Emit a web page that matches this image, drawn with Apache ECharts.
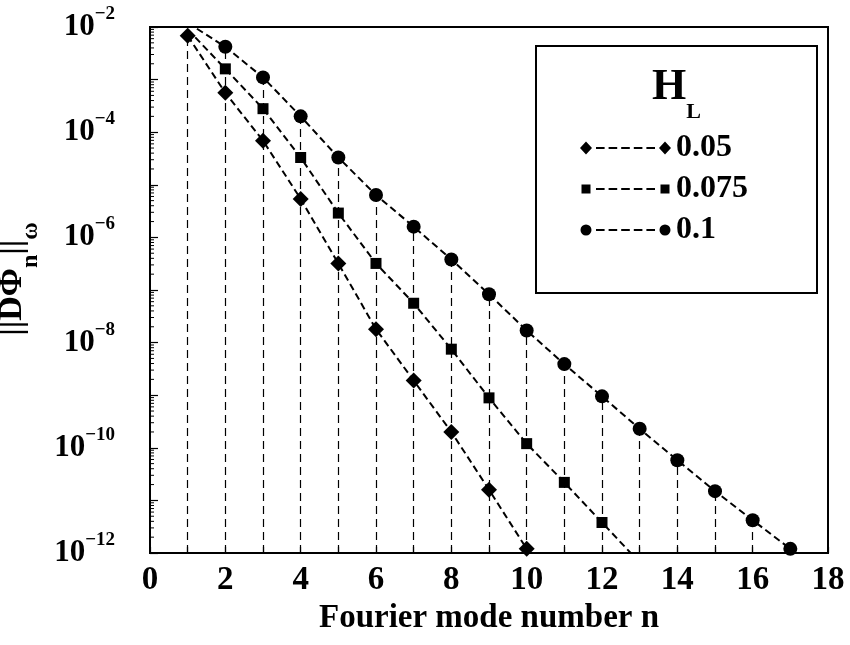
<!DOCTYPE html>
<html><head><meta charset="utf-8">
<script src="https://cdn.jsdelivr.net/npm/echarts@6/dist/echarts.min.js"></script>
<style>html,body{margin:0;padding:0;background:#fff}#c{width:850px;height:645px}</style>
</head><body><div id="c"></div>
<script>
// ---- data ----
const modeN = [1,2,3,4,5,6,7,8,9,10,11,12,13,14,15,16,17];
const hl005  = [6.8e-3, 5.6e-4, 6.9e-5, 5.4e-6, 3.2e-7, 1.8e-8, 1.9e-9, 2.0e-10, 1.6e-11, 1.2e-12];
const hl0075 = [9.0e-3, 1.6e-3, 2.8e-4, 3.3e-5, 2.9e-6, 3.2e-7, 5.6e-8, 7.5e-9, 8.9e-10, 1.2e-10, 2.2e-11, 3.8e-12, 6.6e-13];
const hl01   = [1.2e-2, 4.2e-3, 1.1e-3, 2.0e-4, 3.3e-5, 6.4e-6, 1.6e-6, 3.8e-7, 8.3e-8, 1.7e-8, 3.9e-9, 9.5e-10, 2.3e-10, 5.8e-11, 1.5e-11, 4.2e-12, 1.2e-12];
const seriesNames = ['0.05', '0.075', '0.1'];
const xMin = 0, xMax = 18;
const yMin = 1e-12, yMax = 1e-2;
const xLabel = 'Fourier mode number n';

const FONT = "'Liberation Serif', 'Times New Roman', serif";

function toData(vals, hideFirst) {
  return vals.map((v, i) => {
    const item = { value: [modeN[i], v] };
    if (hideFirst && i === 0) item.symbol = 'none';
    return item;
  });
}

// vertical guide lines from bottom of the axis up to the highest visible point at each n
const allSeries = [hl005, hl0075, hl01];
const guideData = modeN.map((n, i) => {
  const vals = allSeries.map(s => s[i]).filter(v => v !== undefined && v <= yMax);
  const top = Math.max.apply(null, vals);
  return [{ coord: [n, yMin] }, { coord: [n, top] }];
});

// log minor ticks (2..9 in every decade)
const minorTickVals = [];
for (let e = -12; e < -2; e++) {
  for (let k = 2; k <= 9; k++) {
    minorTickVals.push([xMin, k * Math.pow(10, e)]);
  }
}

// legend icons: marker - dashes - marker
let dashes = '';
for (let i = 0; i < 5; i++) { const x = (16 + 12.6 * i).toFixed(2); dashes += `M${x},7h8.6v2h-8.6Z`; }
const anchors = 'M0,0L0.01,0L0,0.01Z M91,16L90.99,16L91,15.99Z M0,16L0.01,16L0,15.99Z M91,0L90.99,0L91,0.01Z';
const iconDiamond = 'path://' + anchors + ' M0,8L6,1.5L12,8L6,14.5Z M79,8L85,1.5L91,8L85,14.5Z ' + dashes;
const iconSquare  = 'path://' + anchors + ' M1.5,3.5h9v9h-9Z M80.5,3.5h9v9h-9Z ' + dashes;
const iconCircle  = 'path://' + anchors + ' M0.5,8A5.5,5.5 0 1 0 11.5,8A5.5,5.5 0 1 0 0.5,8Z M79.5,8A5.5,5.5 0 1 0 90.5,8A5.5,5.5 0 1 0 79.5,8Z ' + dashes;

const lineStyle = { color: '#000', width: 2, type: [7, 4] };

const chart = echarts.init(document.getElementById('c'), null, { renderer: 'canvas' });
chart.setOption({
  animation: false,
  backgroundColor: '#fff',
  title: {
    text: '{h|H}{l|L}',
    left: 652, top: 52, padding: 0,
    textStyle: {
      rich: {
        h: { fontFamily: FONT, fontWeight: 'bold', fontSize: 44, lineHeight: 71, color: '#000' },
        l: { fontFamily: FONT, fontWeight: 'bold', fontSize: 22, lineHeight: 22, verticalAlign: 'bottom', color: '#000' }
      }
    }
  },
  legend: {
    orient: 'vertical',
    left: 536, top: 46,
    padding: [86, 69, 47, 44],
    itemGap: 9,
    itemWidth: 91, itemHeight: 16,
    borderColor: '#000', borderWidth: 2,
    selectedMode: false,
    textStyle: { fontFamily: FONT, fontWeight: 'bold', fontSize: 32, lineHeight: 32, color: '#000' },
    data: [
      { name: seriesNames[0], icon: iconDiamond },
      { name: seriesNames[1], icon: iconSquare },
      { name: seriesNames[2], icon: iconCircle }
    ]
  },
  grid: { left: 150, right: 22, top: 27, bottom: 92, show: true, borderColor: '#000', borderWidth: 2, containLabel: false, outerBoundsMode: 'none' },
  xAxis: {
    type: 'value', min: xMin, max: xMax, interval: 1,
    name: xLabel, nameLocation: 'middle', nameGap: 38,
    nameTextStyle: { fontFamily: FONT, fontWeight: 'bold', fontSize: 33, color: '#000' },
    axisLine: { lineStyle: { color: '#000', width: 2 } },
    axisTick: { inside: true, length: 6, lineStyle: { color: '#000', width: 1.2 } },
    axisLabel: {
      margin: 11, color: '#000', fontFamily: FONT, fontWeight: 'bold', fontSize: 33,
      formatter: v => (v % 2 === 0 ? String(v) : '')
    },
    splitLine: { show: false }
  },
  yAxis: {
    type: 'log', logBase: 10, min: yMin, max: yMax, splitNumber: 10,
    name: '{m|||DΦ}{s|n}{m|||}{s|ω}',
    nameLocation: 'middle', nameRotate: 90, nameGap: 98,
    nameTextStyle: {
      padding: [0, 0, 0, 22],
      rich: {
        m: { fontFamily: FONT, fontWeight: 'bold', fontSize: 34, lineHeight: 62, color: '#000' },
        s: { fontFamily: FONT, fontWeight: 'bold', fontSize: 24, lineHeight: 24, verticalAlign: 'bottom', color: '#000' }
      }
    },
    axisLine: { lineStyle: { color: '#000', width: 2 } },
    axisTick: { inside: true, length: 8, lineStyle: { color: '#000', width: 1.2 } },
    axisLabel: {
      margin: 35, color: '#000',
      formatter: v => {
        const e = Math.round(Math.log10(v));
        if (e % 2 !== 0) return '';
        return '{b|10}{s|−' + Math.abs(e) + '}';
      },
      rich: {
        b: { fontFamily: FONT, fontWeight: 'bold', fontSize: 31, lineHeight: 45, color: '#000' },
        s: { fontFamily: FONT, fontWeight: 'bold', fontSize: 19, lineHeight: 19, verticalAlign: 'top', color: '#000' }
      }
    },
    splitLine: { show: false }
  },
  series: [
    {
      name: 'minorTicks', type: 'custom', silent: true, z: 5,
      data: minorTickVals,
      renderItem: (params, api) => {
        const p = api.coord([api.value(0), api.value(1)]);
        return { type: 'line', shape: { x1: p[0], y1: p[1], x2: p[0] + 4, y2: p[1] }, style: { stroke: '#000', lineWidth: 1 } };
      }
    },
    {
      name: seriesNames[2], type: 'line', data: toData(hl01, true),
      symbol: 'circle', symbolSize: 14, showAllSymbol: true, clip: true,
      itemStyle: { color: '#000' }, lineStyle: lineStyle,
      markLine: {
        silent: true, symbol: ['none', 'none'], label: { show: false },
        lineStyle: { color: '#000', width: 1.2, type: [8, 5] },
        data: guideData
      }
    },
    {
      name: seriesNames[1], type: 'line', data: toData(hl0075, true),
      symbol: 'rect', symbolSize: 11, showAllSymbol: true, clip: true,
      itemStyle: { color: '#000' }, lineStyle: lineStyle
    },
    {
      name: seriesNames[0], type: 'line', data: toData(hl005, false),
      symbol: 'diamond', symbolSize: 16, showAllSymbol: true, clip: true,
      itemStyle: { color: '#000' }, lineStyle: lineStyle
    }
  ]
});
</script></body></html>
